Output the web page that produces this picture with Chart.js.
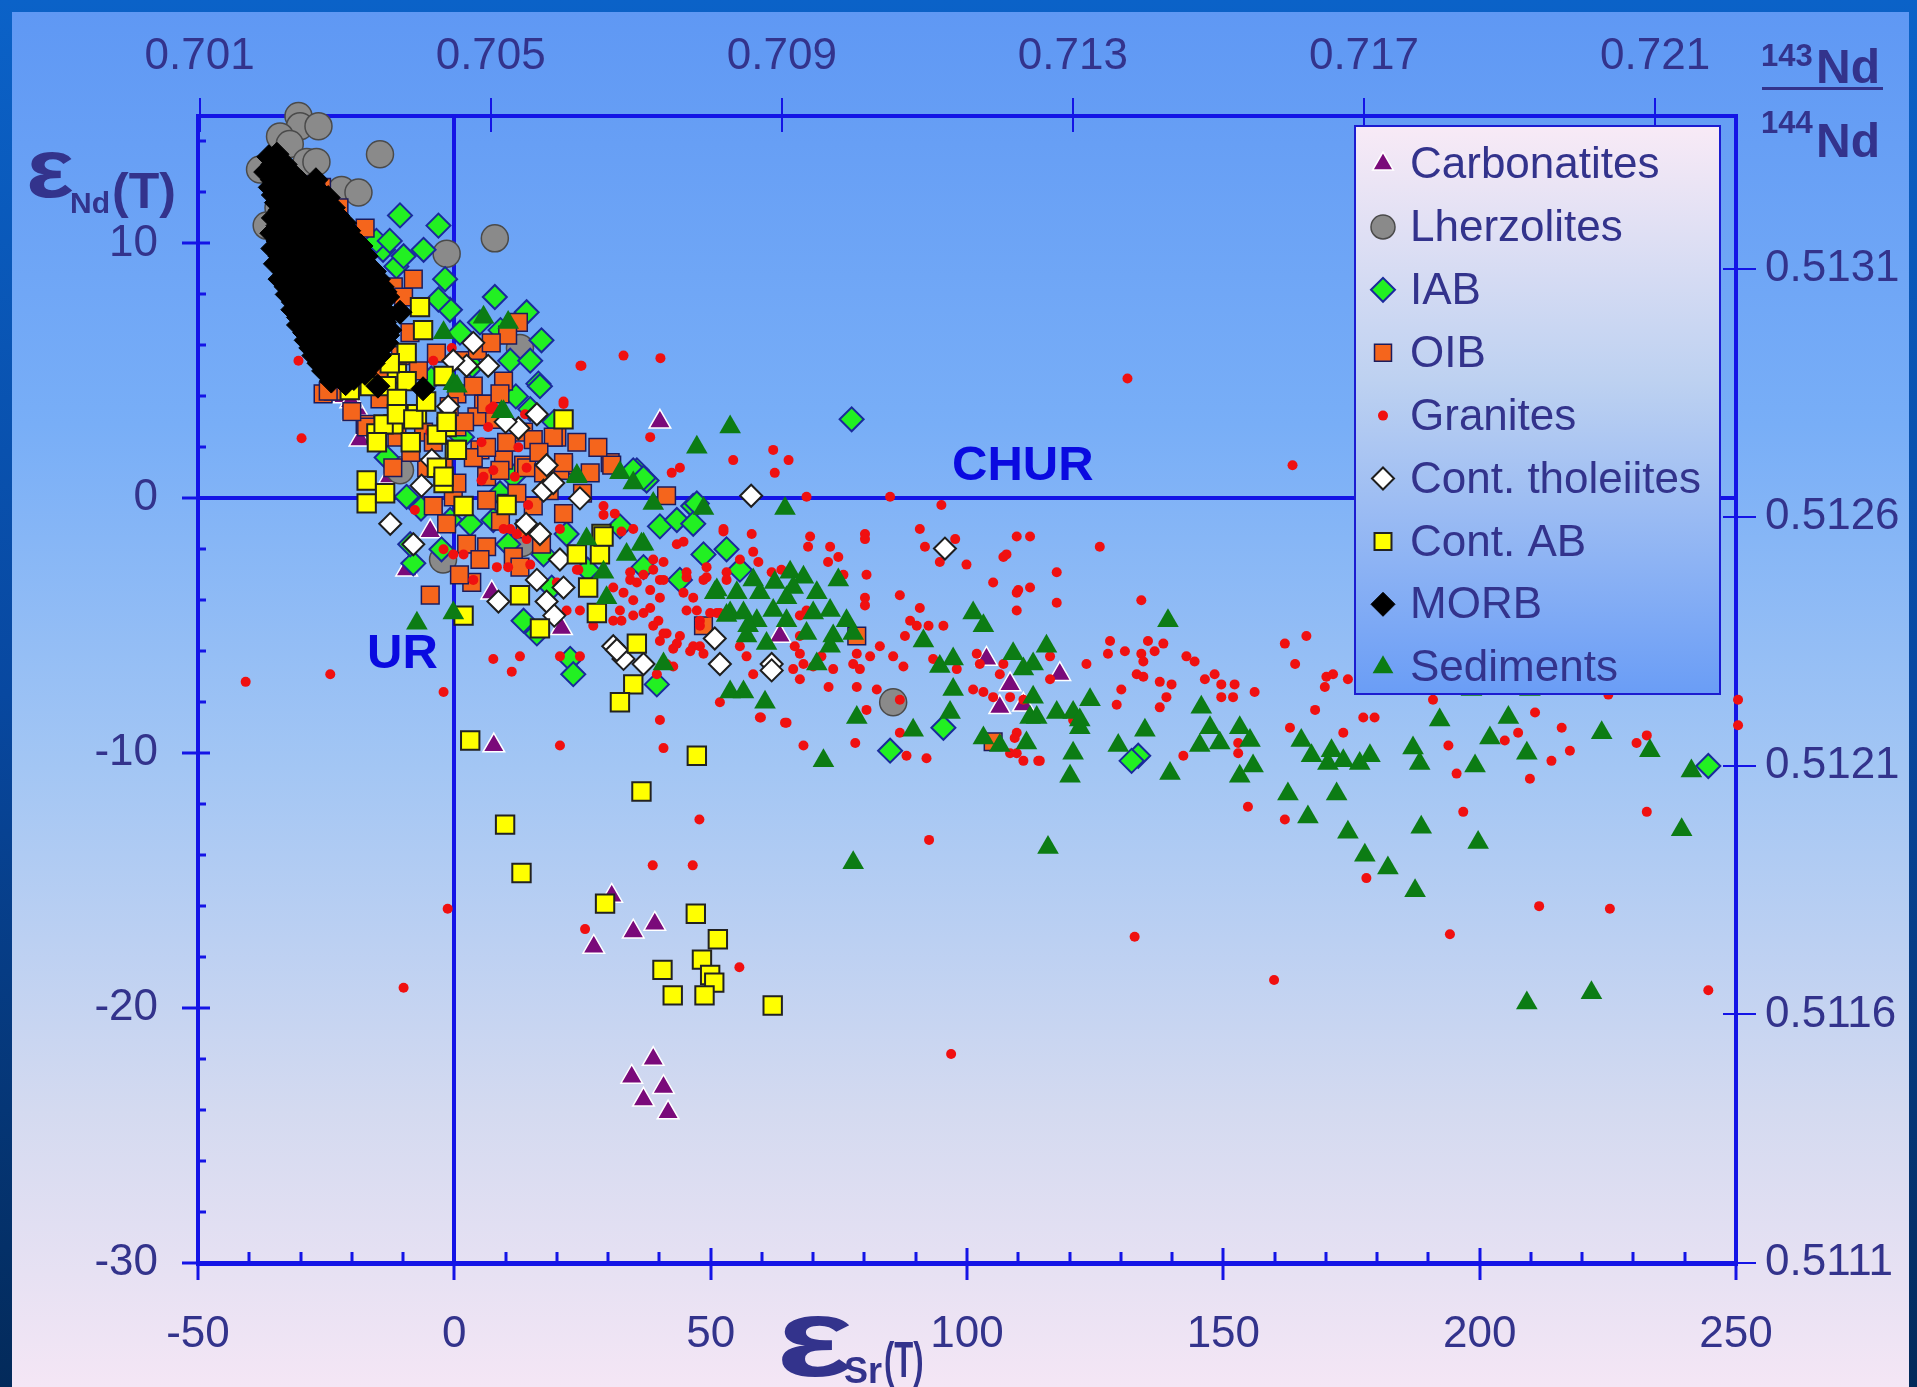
<!DOCTYPE html>
<html>
<head>
<meta charset="utf-8">
<title>εNd(T) – εSr(T)</title>
<script src="https://cdn.jsdelivr.net/npm/chart.js@4.4.1/dist/chart.umd.min.js"></script>
<style>
  html, body { margin: 0; padding: 0; background: #04306a; overflow: hidden; }
  canvas { display: block; }
</style>
</head>
<body>
<canvas id="isoChart" width="1917" height="1387"></canvas>
<script>
// εSr(T) vs εNd(T) for the main rock reservoirs, pairs are [εSr, εNd]

const srTicks = [-50, 0, 50, 100, 150, 200, 250];
const ndTicks = [-30, -20, -10, 0, 10];
const srRatioTicks = [0.701, 0.705, 0.709, 0.713, 0.717, 0.721];
const ndRatioTicks = [0.5111, 0.5116, 0.5121, 0.5126, 0.5131];

const carbonatites = [
  [7.7, -9.7], [30.7, -15.6], [39.1, -16.7], [34.9, -17.0], [27.2, -17.6], [38.8, -22.0],
  [34.6, -22.7], [40.8, -23.1], [36.9, -23.6], [41.7, -24.1], [40.1, 3.0], [20.9, -5.1],
  [7.3, -3.7], [-9.3, -2.8], [-4.7, -1.3], [-19.7, 3.3], [-18.4, 2.3], [63.5, -5.4],
  [103.8, -6.3], [108.4, -7.3], [106.4, -8.2], [111.0, -8.1], [118.1, -6.9], [-19.0, 3.5],
  [-12.6, 0.85], [-21.5, 4.0], [-20.2, 3.8],
];

const lherzolites = [
  [-30.4, 15.0], [-30.1, 14.6], [-26.5, 14.6], [-34.0, 14.2], [-32.1, 13.9], [-37.9, 12.9],
  [-28.8, 13.2], [-26.9, 13.2], [-22.0, 12.1], [-18.7, 12.0], [-34.3, 11.4], [-36.6, 10.7],
  [-33.4, 10.7], [-14.5, 13.5], [-1.5, 9.6], [7.9, 10.2], [12.8, 5.9], [-10.6, 1.1],
  [-2.2, -2.4], [13.2, -1.75], [85.6, -8.0], [-33.0, 12.4], [-29.0, 11.9],
];

const iab = [
  [-10.6, 11.1], [-3.1, 10.7], [-6.0, 9.75], [-13.9, 9.75], [-11.3, 9.1], [-1.8, 8.6],
  [7.9, 7.9], [-0.85, 7.4], [-3.1, 7.8], [1.1, 6.5], [17.0, 6.2], [10.9, 5.4], [14.8, 5.4],
  [16.4, 4.5], [14.1, 7.3], [5.0, 6.9], [-15.2, 10.1], [-12.6, 10.1], [-9.9, 9.5], [-13.2, 1.6],
  [16.7, 4.4], [14.8, 3.5], [11.5, 0.85], [-9.3, 0.06], [-0.8, -0.85], [3.1, -1.0], [7.6, -0.85],
  [17.4, -2.2], [21.9, -1.4], [-8.0, -2.55], [-8.6, -1.8], [13.5, -4.8], [16.1, -5.3],
  [22.6, -6.3], [23.2, -6.9], [35.6, 1.1], [37.5, 0.7], [40.1, -1.1], [43.4, -0.85],
  [46.6, -0.3], [48.6, -2.2], [53.1, -2.0], [44.0, -3.2], [39.5, -7.3], [8.9, 0.2], [32.3, -1.1],
  [34.9, 1.1], [36.9, 0.8], [47.3, -0.2], [46.6, -1.0], [55.7, -2.8], [36.9, -2.7], [77.5, 3.1],
  [85.0, -9.9], [95.4, -9.0], [133.4, -10.1], [132.1, -10.3], [244.6, -10.5], [3.5, 5.2],
  [9.0, 6.6], [12.0, 4.0], [-4.5, 4.7], [19.5, 3.0], [1.5, 2.4], [-6.5, -0.4], [10.5, -1.8],
  [19.0, -3.5], [26.0, -2.8], [-2.5, -2.0],
];

const oib = [
  [-28.2, 12.3], [-25.9, 12.2], [-27.0, 12.0], [-17.4, 10.6], [-11.9, 8.3], [-9.9, 7.9],
  [-8.65, 6.5], [-25.6, 4.1], [-23.6, 4.2], [-17.4, 2.9], [9.6, 4.6], [12.5, 6.9], [10.4, 6.4],
  [0.5, 4.1], [3.7, 4.4], [5.7, 3.7], [7.6, 3.1], [13.5, 2.6], [20.0, 2.4], [23.9, 2.2],
  [-6.0, 2.6], [-11.2, 2.4], [5.0, 1.9], [9.6, 1.5], [13.5, 1.3], [21.3, 1.3], [-24.6, 4.2],
  [-17.1, 2.8], [-14.5, 3.9], [-4.1, 2.2], [0.5, 2.8], [4.4, 3.2], [6.3, 3.7], [8.9, 4.1],
  [10.2, 2.2], [15.4, 2.3], [19.3, 2.4], [3.7, 1.6], [6.3, 2.0], [-5.4, 1.2], [-2.1, 1.2],
  [6.3, 0.85], [8.9, 1.1], [14.1, 1.2], [17.4, 1.0], [20.6, 1.1], [26.5, 1.0], [30.4, 1.4],
  [-4.1, -0.3], [-0.2, 0.06], [6.3, -0.07], [10.2, -0.2], [15.4, -0.3], [21.3, -0.6],
  [2.4, -1.8], [6.3, -1.9], [5.0, -2.4], [11.5, -2.3], [12.8, -2.7], [3.4, -3.3], [-4.7, -3.8],
  [41.4, 0.1], [21.3, 1.4], [0.5, 0.6], [12.2, 0.2], [30.7, 1.3], [48.6, -5.0], [78.5, -5.4],
  [105.1, -9.55], [-20.0, 3.4], [-14.0, 5.0], [-10.5, 5.6], [-7.0, 5.0], [-3.5, 5.7], [1.5, 5.4],
  [4.5, 5.8], [7.2, 6.1], [2.0, 3.0], [-1.0, 3.6], [16.5, 1.8], [18.5, 0.3], [25.0, 0.2],
  [28.0, 2.0], [-8.5, 1.8], [-12.0, 1.2], [9.0, -0.9], [13.8, -1.2], [17.0, -1.8], [-1.5, -1.0],
  [1.0, -3.0], [-14.5, 6.2], [-8.0, 8.6], [-20.5, 9.8], [-22.5, 11.4],
];

const granites = [
  [-30.4, 5.4], [-29.8, 2.36], [24.8, 5.2], [21.3, 3.8], [-0.5, 5.9], [-4.1, 5.4], [13.8, 3.3],
  [7.6, 3.6], [6.6, 2.8], [12.5, 2.0], [-4.7, 2.6], [5.7, 0.85], [21.3, 3.7], [38.2, 2.4],
  [54.4, 1.5], [42.4, 1.0], [44.0, 1.2], [-7.7, -0.46], [-2.1, -2.0], [-0.2, -2.2], [1.8, -2.2],
  [7.6, 1.1], [29.1, -0.3], [29.1, -0.65], [31.3, -0.6], [32.6, -1.3], [34.9, -1.2], [43.4, -1.8],
  [44.7, -1.7], [52.5, -1.2], [55.7, -2.4], [38.8, -2.8], [40.8, -2.5], [36.9, -3.0], [34.3, -3.2],
  [23.9, -2.8], [40.1, -3.2], [45.3, -3.1], [49.2, -3.1], [34.9, -4.0], [32.3, -4.4], [36.9, -4.5],
  [39.8, -4.8], [38.2, -4.3], [44.7, -3.7], [46.6, -3.9], [21.9, -4.4], [24.5, -4.4], [27.1, -5.0],
  [31.0, -4.8], [32.6, -4.8], [34.9, -4.6], [41.4, -5.3], [44.0, -5.4], [40.1, -5.6], [42.7, -5.9],
  [46.6, -5.8], [47.9, -5.8], [41.4, -6.5], [47.9, -4.8], [51.2, -4.5], [7.6, -6.3], [11.2, -6.8],
  [12.8, -6.2], [-24.2, -6.9], [-2.1, -7.6], [40.1, -8.7], [51.8, -8.0], [14.1, -1.6], [10.9, -1.2],
  [7.0, 3.5], [-4.1, 2.5], [5.3, 2.2], [14.1, 1.2], [5.3, 0.7], [11.8, 0.85], [14.4, -0.26],
  [20.6, -1.2], [9.6, -1.2], [12.2, -1.4], [14.8, -1.3], [8.3, -2.7], [10.5, -2.7], [14.8, -2.6],
  [20.0, -3.3], [3.7, -3.2], [24.2, -2.8], [20.6, -6.2], [24.5, -6.2], [62.2, 1.9], [65.2, 1.5],
  [62.5, 1.0], [68.7, 0.06], [85.0, 0.06], [95.0, -0.26], [90.8, -1.2], [91.8, -1.9], [97.7, -1.6],
  [99.9, -2.6], [94.7, -2.5], [107.1, -2.3], [109.7, -1.5], [112.3, -1.5], [117.5, -2.9],
  [105.1, -3.3], [109.7, -3.7], [112.3, -3.5], [117.5, -4.1], [109.7, -4.4], [80.1, -1.4],
  [80.1, -1.6], [80.1, -3.9], [80.1, -4.2], [80.4, -3.0], [69.4, -1.5], [69.0, -1.9], [73.3, -1.9],
  [74.9, -2.3], [72.9, -2.5], [75.9, -3.0], [86.9, -3.8], [90.8, -4.3], [95.4, -5.0], [88.9, -4.8],
  [90.2, -5.0], [92.5, -5.0], [87.9, -5.4], [85.6, -6.2], [83.0, -5.8], [81.1, -6.2], [78.5, -6.1],
  [77.8, -6.5], [79.1, -6.7], [73.9, -6.7], [78.5, -7.4], [82.4, -7.5], [86.9, -7.9], [87.6, -6.6],
  [93.4, -6.3], [98.0, -6.7], [101.9, -6.1], [102.5, -6.5], [101.2, -7.5], [103.2, -7.6],
  [107.1, -6.5], [106.4, -6.9], [105.1, -7.8], [108.4, -7.8], [111.0, -7.9], [116.2, -7.1],
  [123.3, -6.5], [120.7, -8.7], [109.7, -9.2], [108.4, -10.0], [111.0, -10.3], [114.2, -10.3],
  [92.1, -10.2], [88.2, -10.1], [86.9, -9.2], [78.2, -9.6], [68.1, -9.7], [80.4, -8.3], [64.8, -8.8],
  [59.6, -8.6], [40.8, -9.8], [73.0, -7.4], [67.4, -6.1], [68.1, -6.5], [66.1, -6.7], [67.4, -7.1],
  [70.0, -6.6], [71.6, -6.2], [58.3, -6.9], [55.7, -5.8], [57.0, -6.2], [47.9, -5.0], [49.9, -4.5],
  [47.3, -4.4], [45.3, -4.4], [43.4, -5.7], [46.0, -6.0], [48.6, -6.1], [40.8, -5.3], [38.8, -5.0],
  [42.7, -6.6], [39.5, -6.9], [38.2, -3.6], [40.8, -3.2], [40.1, -3.9], [33.0, -3.7], [31.0, -3.5],
  [35.6, -3.3], [38.8, -2.4], [34.3, -2.9], [45.3, -2.9], [48.6, -3.2], [49.2, -2.7], [52.5, -1.3],
  [58.0, -1.4], [58.3, -2.1], [59.3, -2.5], [61.9, -2.9], [63.8, -2.8], [53.1, -2.9], [53.1, -3.2],
  [51.8, -4.5], [67.4, -4.6], [67.4, -5.4], [66.4, -5.8], [68.7, -4.4], [125.9, -1.9], [107.7, -2.2],
  [110.0, -3.6], [134.0, -4.0], [127.9, -5.6], [127.5, -6.1], [130.8, -6.0], [135.3, -5.6],
  [138.3, -5.7], [136.6, -6.0], [134.0, -6.1], [134.4, -6.4], [133.1, -6.9], [134.4, -7.0],
  [137.6, -7.2], [139.9, -7.3], [130.1, -7.5], [129.2, -8.1], [138.9, -7.8], [137.6, -8.2],
  [142.8, -6.2], [144.4, -6.4], [146.4, -7.1], [148.3, -6.9], [149.6, -7.3], [152.2, -7.3],
  [149.6, -7.8], [151.9, -7.8], [156.1, -7.6], [116.2, -6.2], [113.9, -10.3], [109.7, -10.0],
  [109.3, -9.4], [142.2, -10.1], [152.9, -9.6], [152.9, -10.0], [154.8, -12.1], [162.0, -12.6],
  [163.0, -9.0], [167.9, -8.3], [164.0, -6.5], [162.0, -5.7], [166.2, -5.4], [170.1, -7.0],
  [171.4, -6.9], [169.8, -7.4], [174.3, -7.1], [173.4, -9.2], [177.3, -8.6], [179.5, -8.6],
  [177.9, -14.9], [190.9, -7.9], [193.9, -9.7], [195.5, -10.8], [196.8, -12.3], [225.1, -7.7],
  [210.8, -8.4], [216.0, -9.0], [207.5, -9.2], [204.9, -9.5], [217.6, -9.9], [214.0, -10.3],
  [209.8, -11.0], [232.6, -9.3], [230.6, -9.6], [232.6, -12.3], [225.4, -16.1], [194.2, -17.1],
  [244.6, -19.3], [250.4, -7.9], [250.4, -8.9], [20.6, -9.7], [47.8, -12.6], [38.7, -14.4],
  [46.5, -14.4], [25.5, -16.9], [55.6, -18.4], [-1.3, -16.1], [-9.9, -19.2], [59.8, -8.6],
  [64.5, -8.8], [-40.7, -7.2], [33.0, 5.6], [40.2, 5.5], [24.6, 5.2], [131.3, 4.7], [163.5, 1.3],
  [96.9, -21.8], [132.7, -17.2], [159.9, -18.9], [211.6, -16.0], [92.6, -13.4],
];

const contTholeiites = [
  [-13.5, 8.1], [3.7, 6.1], [2.4, 5.2], [6.6, 5.2], [-0.2, 5.4], [-1.2, 3.6], [16.1, 3.3],
  [12.5, 2.75], [-4.4, 1.5], [18.0, 1.3], [-6.4, 0.5], [17.4, 0.3], [19.3, 0.6], [24.5, 0.0],
  [-12.5, -1.0], [-8.0, -1.8], [16.7, -1.4], [20.6, -2.4], [16.1, -3.2], [21.3, -3.5], [8.6, -4.05],
  [18.0, -4.05], [31.0, -5.8], [33.0, -6.3], [36.9, -6.5], [50.8, -5.5], [51.8, -6.5], [57.9, 0.1],
  [95.7, -1.97], [61.9, -6.5], [61.9, -6.75], [31.7, -5.95], [14.0, -1.0], [19.5, -4.6], [10.0, 3.0],
];

const contAB = [
  [-6.7, 7.5], [-6.1, 6.6], [21.3, 3.1], [-20.4, 4.25], [-16.5, 4.4], [-11.2, 4.9], [-9.3, 4.6],
  [-15.2, 2.55], [-11.9, 2.9], [-7.3, 3.3], [-1.5, 2.8], [-2.1, 4.8], [-17.1, 0.7], [0.1, 1.9],
  [-3.4, 1.2], [-9.3, 5.7], [-12.6, 5.3], [-13.2, 4.4], [-11.2, 3.9], [-3.4, 2.5], [-2.1, 0.6],
  [-13.8, 2.9], [-11.2, 3.3], [-15.1, 2.2], [-8.0, 3.1], [-1.5, 3.0], [0.5, 1.9], [-2.1, 0.85],
  [1.8, -0.3], [10.2, -0.26], [-17.1, -0.2], [-13.5, 0.2], [28.7, -1.4], [23.9, -2.2],
  [28.4, -2.2], [26.1, -3.5], [12.8, -3.8], [27.8, -4.5], [16.7, -5.1], [35.6, -5.7], [34.9, -7.3],
  [32.3, -8.0], [1.8, -4.6], [-5.5, 3.8], [-8.5, 2.2], [29.1, -1.5], [47.3, -10.1], [36.5, -11.5],
  [3.1, -9.5], [9.9, -12.8], [13.1, -14.7], [29.4, -15.9], [47.1, -16.3], [51.4, -17.3],
  [40.6, -18.5], [48.3, -18.1], [49.9, -18.7], [50.7, -19.0], [42.6, -19.5], [48.8, -19.5],
  [62.1, -19.9],
];

const morb = [
  [-36.2, 13.4], [-34.6, 13.5], [-35.4, 13.1], [-33.0, 13.1],
  [-36.8, 12.8], [-34.1, 12.9], [-31.4, 12.7],
  [-35.5, 12.5], [-32.7, 12.5], [-29.9, 12.4], [-27.0, 12.5],
  [-35.9, 12.2], [-33.2, 12.3], [-30.4, 12.1], [-27.6, 12.2], [-26.1, 12.0],
  [-35.3, 11.9], [-32.6, 11.9], [-29.8, 11.8], [-27.0, 11.9], [-24.6, 11.8],
  [-34.7, 11.6], [-31.9, 11.7], [-29.2, 11.5], [-26.4, 11.6], [-23.6, 11.4],
  [-34.0, 11.3], [-31.2, 11.3], [-28.4, 11.2], [-25.6, 11.2], [-22.8, 11.1],
  [-35.3, 11.0], [-32.5, 10.9], [-29.8, 11.1], [-27.0, 11.0], [-24.2, 10.9], [-21.4, 10.8],
  [-34.4, 10.7], [-31.8, 10.7], [-29.0, 10.7], [-26.2, 10.6], [-23.4, 10.6], [-20.6, 10.5],
  [-35.6, 10.4], [-33.8, 10.3], [-31.1, 10.5], [-28.3, 10.4], [-25.5, 10.3], [-22.7, 10.4], [-19.8, 10.2],
  [-34.4, 10.1], [-31.7, 10.1], [-28.9, 10.1], [-26.1, 10.0], [-23.3, 10.0], [-20.5, 10.0], [-18.2, 9.9],
  [-35.4, 9.8], [-32.4, 9.7], [-29.6, 9.9], [-26.9, 9.8], [-24.1, 9.7], [-21.3, 9.8], [-18.5, 9.6], [-17.2, 9.5],
  [-34.0, 9.5], [-31.2, 9.5], [-28.4, 9.5], [-25.6, 9.4], [-22.8, 9.4], [-20.0, 9.4], [-17.6, 9.3],
  [-34.9, 9.2], [-33.6, 9.1], [-30.9, 9.3], [-28.1, 9.2], [-25.3, 9.1], [-22.6, 9.2], [-19.8, 9.1], [-17.0, 9.0], [-15.6, 8.9],
  [-33.2, 8.9], [-30.4, 8.9], [-27.6, 8.9], [-24.8, 8.8], [-22.0, 8.8], [-19.2, 8.8], [-16.6, 8.7], [-14.8, 8.6],
  [-34.0, 8.6], [-32.2, 8.5], [-29.4, 8.7], [-26.7, 8.6], [-23.9, 8.5], [-21.1, 8.6], [-18.3, 8.5], [-15.6, 8.4], [-14.1, 8.3],
  [-32.8, 8.3], [-30.0, 8.3], [-27.2, 8.3], [-24.4, 8.2], [-21.6, 8.2], [-18.8, 8.2], [-16.0, 8.1], [-13.6, 8.1],
  [-32.6, 8.0], [-30.8, 7.9], [-28.0, 8.1], [-25.2, 8.0], [-22.5, 7.9], [-19.7, 8.0], [-16.9, 7.9], [-14.2, 7.8], [-13.0, 7.9],
  [-31.4, 7.7], [-28.6, 7.7], [-25.8, 7.7], [-23.0, 7.6], [-20.2, 7.6], [-17.4, 7.6], [-14.6, 7.5],
  [-31.5, 7.4], [-29.4, 7.3], [-26.6, 7.5], [-23.8, 7.4], [-21.1, 7.3], [-18.3, 7.4], [-15.5, 7.3], [-12.8, 7.2],
  [-30.4, 7.1], [-27.6, 7.1], [-24.8, 7.1], [-22.0, 7.0], [-19.2, 7.0], [-16.4, 7.0], [-13.6, 6.9],
  [-30.4, 6.8], [-28.0, 6.7], [-25.2, 6.9], [-22.4, 6.8], [-19.7, 6.7], [-16.9, 6.8], [-14.1, 6.7], [-12.6, 6.6],
  [-29.2, 6.5], [-26.4, 6.5], [-23.6, 6.5], [-20.8, 6.4], [-18.0, 6.4], [-15.2, 6.4], [-13.0, 6.4],
  [-28.9, 6.2], [-26.6, 6.1], [-23.8, 6.3], [-21.0, 6.2], [-18.3, 6.1], [-15.5, 6.2], [-13.2, 6.1],
  [-28.0, 5.9], [-25.2, 5.9], [-22.4, 5.9], [-19.6, 5.8], [-16.8, 5.8], [-14.2, 5.9],
  [-27.4, 5.6], [-25.2, 5.5], [-22.4, 5.7], [-19.6, 5.6], [-16.9, 5.5], [-14.6, 5.6],
  [-26.4, 5.3], [-23.6, 5.3], [-20.8, 5.3], [-18.0, 5.2], [-15.8, 5.3],
  [-25.5, 5.0], [-23.8, 4.9], [-21.0, 5.1], [-18.2, 5.0], [-17.4, 4.9],
  [-22.6, 4.8], [-19.6, 4.7], [-24.0, 4.6], [-21.2, 4.5],
  [-14.9, 4.4], [-6.1, 4.3], [-10.6, 7.3],
];

const sediments = [
  [5.7, 7.1], [10.5, 6.9], [-2.1, 6.5], [-0.2, 4.5], [9.2, 3.4], [23.9, 0.85], [0.5, 4.4],
  [9.6, 3.4], [47.3, 2.0], [53.8, 2.8], [23.9, 0.9], [32.3, 1.0], [34.9, 0.6], [38.8, -0.2],
  [48.6, -0.4], [25.8, -1.6], [33.6, -2.2], [36.9, -1.8], [29.1, -2.9], [29.7, -3.9], [-0.2, -4.5],
  [-7.3, -4.9], [40.8, -6.5], [51.2, -3.6], [53.8, -4.5], [53.8, -7.6], [56.4, -7.6], [64.5, -0.4],
  [36.5, -1.8], [50.8, -3.7], [53.1, -4.6], [65.5, -2.9], [68.1, -3.1], [74.9, -3.2], [59.6, -3.7],
  [56.4, -4.5], [59.0, -4.8], [62.2, -4.4], [64.8, -3.9], [70.7, -3.7], [73.3, -4.4], [64.8, -4.8],
  [57.0, -5.4], [60.9, -5.7], [73.9, -5.4], [76.5, -4.8], [70.0, -4.5], [68.7, -5.3], [73.3, -5.8],
  [70.7, -6.5], [77.8, -5.3], [55.1, -3.7], [66.1, -3.5], [62.5, -3.3], [58.3, -3.2], [57.3, -5.0],
  [60.6, -8.0], [101.2, -4.5], [103.2, -5.0], [91.5, -5.6], [94.7, -6.6], [97.3, -6.3], [97.3, -7.5],
  [96.7, -8.4], [89.5, -9.1], [103.2, -9.4], [106.4, -9.7], [78.5, -8.6], [72.0, -10.3], [111.0, -6.7],
  [115.5, -5.8], [112.9, -7.8], [112.3, -8.6], [117.5, -8.4], [120.7, -8.4], [124.0, -7.9],
  [122.0, -9.0], [120.7, -10.0], [120.1, -10.9], [139.2, -4.8], [109.0, -6.1], [112.9, -6.5],
  [122.0, -8.7], [113.6, -8.6], [111.6, -9.6], [129.5, -9.7], [134.7, -9.1], [139.6, -10.8],
  [145.7, -8.2], [147.4, -9.0], [149.3, -9.6], [145.4, -9.7], [153.2, -9.0], [155.2, -9.5],
  [153.2, -10.9], [155.8, -10.5], [165.2, -9.5], [167.2, -10.1], [171.1, -9.9], [170.4, -10.4],
  [173.4, -10.3], [176.6, -10.4], [178.6, -10.1], [162.6, -11.6], [172.1, -11.6], [166.5, -12.5],
  [174.3, -13.1], [177.6, -14.0], [182.1, -14.5], [187.4, -15.4], [188.6, -12.9], [187.0, -9.8],
  [188.3, -10.4], [192.2, -8.7], [199.1, -10.5], [199.7, -13.5], [202.0, -9.4], [115.8, -13.7],
  [205.6, -8.6], [209.2, -10.0], [223.8, -9.2], [233.2, -9.9], [241.3, -10.7], [239.4, -13.0],
  [209.2, -19.8], [221.8, -19.4], [198.4, -7.5], [209.8, -7.5], [77.8, -14.3],
];

const AXIS_BLUE = "#1414e6";
const TEXT_NAVY = "#33338c";
const LABEL_BLUE = "#0a0ae0";
const FONT = "'Liberation Sans', Arial, sans-serif";

// reference ratios used to convert ε values to the isotope ratios on the top / right axes
const SR_UR = 0.7045;
const ND_CHUR = 0.512638;
const srMin = -50, srMax = 250, ndMin = -30, ndMax = 15;

const seriesStyles = [
  { label: "Carbonatites", data: carbonatites, pointStyle: "triangle", radius: 12.5, fill: "#7a0a7a", stroke: "#ffffff", width: 1.5 },
  { label: "Lherzolites", data: lherzolites, pointStyle: "circle", radius: 13.5, fill: "#8a8a8a", stroke: "#4a4a4a", width: 1.5 },
  { label: "IAB", data: iab, pointStyle: "rectRot", radius: 12, fill: "#22f022", stroke: "#1a2a9c", width: 2 },
  { label: "OIB", data: oib, pointStyle: "rect", radius: 12.5, fill: "#f5651c", stroke: "#1c1c5c", width: 1.5 },
  { label: "Granites", data: granites, pointStyle: "circle", radius: 5, fill: "#f01010", stroke: "#f01010", width: 0 },
  { label: "Cont. tholeiites", data: contTholeiites, pointStyle: "rectRot", radius: 11, fill: "#ffffff", stroke: "#1e1e1e", width: 2 },
  { label: "Cont. AB", data: contAB, pointStyle: "rect", radius: 13, fill: "#ffff00", stroke: "#222222", width: 2 },
  { label: "MORB", data: morb, pointStyle: "rectRot", radius: 12, fill: "#000000", stroke: "#000000", width: 1 },
  { label: "Sediments", data: sediments, pointStyle: "triangle", radius: 12.5, fill: "#0c7c14", stroke: "#0c7c14", width: 0 },
];

// first series sits at the bottom of the stack, sediments on top
const datasets = seriesStyles.map((s, i) => ({
  label: s.label,
  data: s.data.map(([x, y]) => ({ x, y })),
  pointStyle: s.pointStyle,
  pointRadius: s.radius,
  pointHoverRadius: s.radius,
  backgroundColor: s.fill,
  borderColor: s.stroke,
  borderWidth: s.width,
  clip: false,
  order: seriesStyles.length - i,
}));

function line(ctx, x1, y1, x2, y2) {
  ctx.beginPath();
  ctx.moveTo(x1, y1);
  ctx.lineTo(x2, y2);
  ctx.stroke();
}

// text drawn with a horizontal stretch (wide epsilons, narrow "(T)")
function stretchedText(ctx, text, x, y, sx) {
  ctx.save();
  ctx.translate(x, y);
  ctx.scale(sx, 1);
  ctx.fillText(text, 0, 0);
  ctx.restore();
}

const slideBackground = {
  id: "slideBackground",
  beforeDraw(chart) {
    const { ctx, width, height } = chart;
    ctx.save();
    const frame = ctx.createLinearGradient(0, 0, 0, height);
    frame.addColorStop(0, "#0b62c8");
    frame.addColorStop(0.5, "#0848a0");
    frame.addColorStop(1, "#032a5a");
    ctx.fillStyle = frame;
    ctx.fillRect(0, 0, width, height);
    const bg = ctx.createLinearGradient(0, 12, 0, height);
    bg.addColorStop(0, "#5f98f4");
    bg.addColorStop(0.3, "#78aef7");
    bg.addColorStop(0.55, "#a3c6f4");
    bg.addColorStop(0.8, "#d4daf0");
    bg.addColorStop(1, "#f4e6f5");
    ctx.fillStyle = bg;
    ctx.fillRect(12, 12, width - 20, height - 12);
    ctx.restore();
  },
};

// tick marks: minor ones point into the plot, major ones cross the axis
const axisTicks = {
  id: "axisTicks",
  beforeDatasetsDraw(chart) {
    const { ctx, chartArea: a, scales } = chart;
    ctx.save();
    ctx.strokeStyle = AXIS_BLUE;
    ctx.lineWidth = 3;
    for (let v = srMin; v <= srMax; v += 10) {
      const px = Math.round(scales.x.getPixelForValue(v));
      if (v % 50 === 0) line(ctx, px, a.bottom - 15, px, a.bottom + 17);
      else line(ctx, px, a.bottom - 11, px, a.bottom);
    }
    for (let v = ndMin; v <= ndMax; v += 2) {
      const py = Math.round(scales.y.getPixelForValue(v));
      if (v % 10 === 0) line(ctx, a.left - 16, py, a.left + 12, py);
      else line(ctx, a.left, py, a.left + 8, py);
    }
    ctx.lineWidth = 2;
    srRatioTicks.forEach((v) => {
      const px = Math.round(scales.x2.getPixelForValue(v));
      line(ctx, px, a.top - 18, px, a.top + 16);
    });
    ndRatioTicks.forEach((v) => {
      const py = Math.round(scales.y2.getPixelForValue(v));
      line(ctx, a.right - 13, py, a.right + 20, py);
    });
    ctx.restore();
  },
};

function drawMarker(ctx, s, x, y) {
  ctx.fillStyle = s.fill;
  ctx.strokeStyle = s.stroke;
  ctx.lineWidth = s.width;
  Chart.helpers.drawPoint(ctx, { pointStyle: s.pointStyle, radius: Math.min(s.radius, 12), borderWidth: s.width, rotation: 0 }, x, y);
}

const legendBox = {
  id: "legendBox",
  afterDatasetsDraw(chart) {
    const { ctx } = chart;
    const left = 1355, top = 126, w = 365, h = 568, rowH = 62.9;
    ctx.save();
    const g = ctx.createLinearGradient(0, top, 0, top + h);
    g.addColorStop(0, "#f8eaf6");
    g.addColorStop(0.45, "#bdd1f1");
    g.addColorStop(1, "#6a9df6");
    ctx.fillStyle = g;
    ctx.fillRect(left, top, w, h);
    ctx.strokeStyle = "#1c1cd0";
    ctx.lineWidth = 2;
    ctx.strokeRect(left, top, w, h);
    ctx.font = `44px ${FONT}`;
    ctx.textBaseline = "middle";
    seriesStyles.forEach((s, i) => {
      const cy = top + 38 + i * rowH;
      drawMarker(ctx, s, 1383, cy);
      ctx.fillStyle = TEXT_NAVY;
      ctx.fillText(s.label, 1410, cy + 2);
    });

    // reference-line names
    ctx.fillStyle = LABEL_BLUE;
    ctx.font = `bold 49px ${FONT}`;
    ctx.textBaseline = "alphabetic";
    ctx.fillText("CHUR", 952, 480);
    ctx.fillText("UR", 367, 668);
    ctx.restore();
  },
};

const axisTitles = {
  id: "axisTitles",
  afterDraw(chart) {
    const { ctx } = chart;
    ctx.save();
    ctx.fillStyle = TEXT_NAVY;
    ctx.textBaseline = "alphabetic";

    // εNd(T)
    ctx.font = `bold 84px ${FONT}`;
    stretchedText(ctx, "ε", 26, 197, 1.2);
    ctx.font = `bold 30px ${FONT}`;
    ctx.fillText("Nd", 70, 213);
    ctx.font = `bold 50px ${FONT}`;
    ctx.fillText("(T)", 112, 208);

    // εSr(T)
    ctx.font = `bold 112px ${FONT}`;
    stretchedText(ctx, "ε", 776, 1376, 1.45);
    ctx.font = `bold 36px ${FONT}`;
    ctx.fillText("Sr", 844, 1383);
    ctx.font = `bold 50px ${FONT}`;
    stretchedText(ctx, "(T)", 884, 1377, 0.62);

    // 143Nd / 144Nd
    ctx.font = `bold 31px ${FONT}`;
    ctx.fillText("143", 1761, 66);
    ctx.fillText("144", 1761, 133);
    ctx.font = `bold 48px ${FONT}`;
    ctx.fillText("Nd", 1816, 83);
    ctx.fillText("Nd", 1816, 157);
    ctx.fillRect(1762, 87, 121, 3);
    ctx.restore();
  },
};

const tickFont = { family: FONT, size: 44 };

new Chart(document.getElementById("isoChart"), {
  type: "scatter",
  data: { datasets },
  options: {
    responsive: false,
    devicePixelRatio: 1,
    animation: false,
    events: [],
    layout: { padding: 0 },
    plugins: { legend: { display: false }, tooltip: { enabled: false } },
    scales: {
      x: {
        type: "linear",
        position: "bottom",
        min: srMin,
        max: srMax,
        afterBuildTicks: (s) => { s.ticks = srTicks.map((value) => ({ value })); },
        afterFit: (s) => { s.height = 124; },
        ticks: { font: tickFont, color: TEXT_NAVY, padding: 45, autoSkip: false, maxRotation: 0 },
        grid: {
          drawTicks: false,
          lineWidth: 4,
          color: (c) => (c.tick && c.tick.value === 0 ? AXIS_BLUE : "rgba(0,0,0,0)"),
        },
        border: { color: AXIS_BLUE, width: 5 },
      },
      y: {
        type: "linear",
        position: "left",
        min: ndMin,
        max: ndMax,
        afterBuildTicks: (s) => { s.ticks = ndTicks.map((value) => ({ value })); },
        afterFit: (s) => { s.width = 198; },
        ticks: { font: tickFont, color: TEXT_NAVY, padding: 40, autoSkip: false },
        grid: {
          drawTicks: false,
          lineWidth: 4,
          color: (c) => (c.tick && c.tick.value === 0 ? AXIS_BLUE : "rgba(0,0,0,0)"),
        },
        border: { color: AXIS_BLUE, width: 4 },
      },
      x2: {
        type: "linear",
        axis: "x",
        position: "top",
        min: SR_UR * (1 + srMin / 1e4),
        max: SR_UR * (1 + srMax / 1e4),
        afterBuildTicks: (s) => { s.ticks = srRatioTicks.map((value) => ({ value })); },
        afterFit: (s) => { s.height = 116; },
        ticks: { font: tickFont, color: TEXT_NAVY, padding: 33, autoSkip: false, maxRotation: 0, callback: (v) => v.toFixed(3) },
        grid: { display: false, drawTicks: false },
        border: { color: AXIS_BLUE, width: 4 },
      },
      y2: {
        type: "linear",
        axis: "y",
        position: "right",
        min: ND_CHUR * (1 + ndMin / 1e4),
        max: ND_CHUR * (1 + ndMax / 1e4),
        afterBuildTicks: (s) => { s.ticks = ndRatioTicks.map((value) => ({ value })); },
        afterFit: (s) => { s.width = 181; },
        ticks: { font: tickFont, color: TEXT_NAVY, padding: 29, autoSkip: false, callback: (v) => v.toFixed(4) },
        grid: { display: false, drawTicks: false },
        border: { color: AXIS_BLUE, width: 4 },
      },
    },
  },
  plugins: [slideBackground, axisTicks, legendBox, axisTitles],
});
</script>
</body>
</html>
